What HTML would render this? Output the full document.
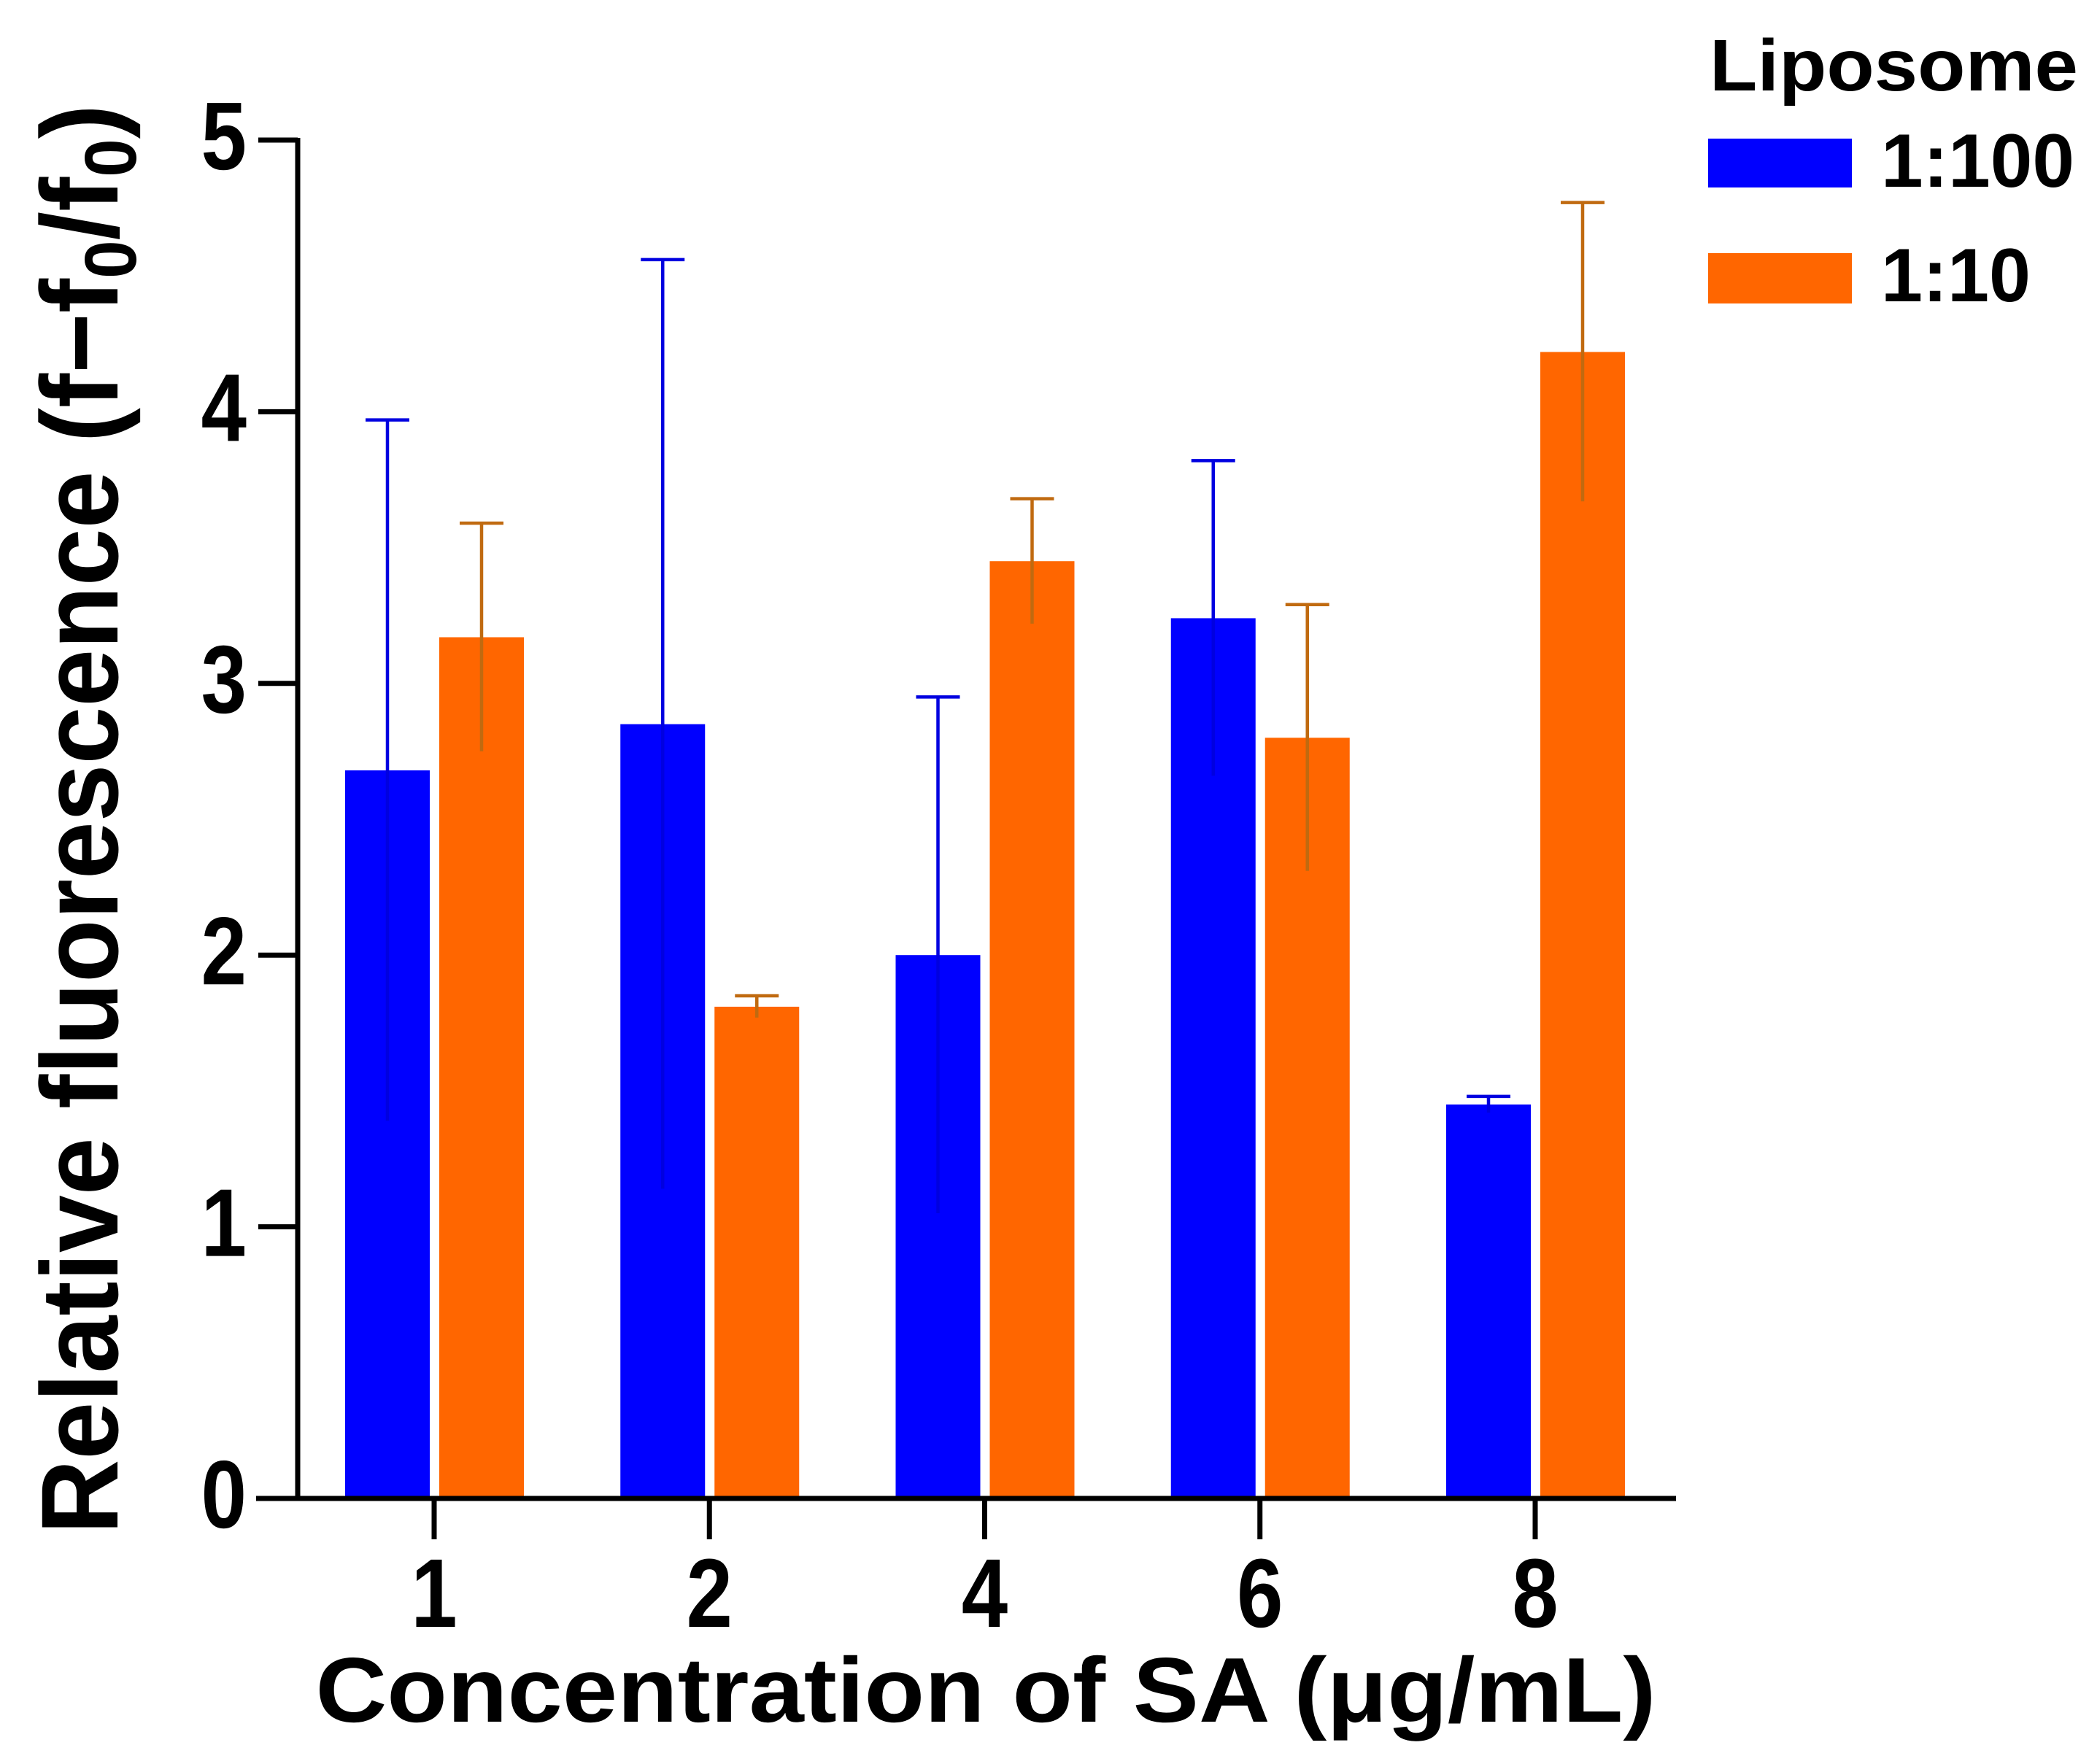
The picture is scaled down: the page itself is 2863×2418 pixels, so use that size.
<!DOCTYPE html>
<html><head><meta charset="utf-8"><style>
html,body{margin:0;padding:0;background:#fff;}
svg{display:block;font-family:"Liberation Sans",Arial,sans-serif;font-weight:bold;}
</style></head><body>
<svg id="chart" width="2863" height="2418" viewBox="0 0 2863 2418" xmlns="http://www.w3.org/2000/svg">
<g id="plot"></g>
<text transform="translate(161,1123) rotate(-90)" text-anchor="middle" font-size="150" textLength="1960" lengthAdjust="spacingAndGlyphs">Relative fluorescence (f−f<tspan font-size="100" dy="25">0</tspan><tspan dy="-25">/f</tspan><tspan font-size="100" dy="25">0</tspan><tspan dy="-25">)</tspan></text>
<text x="1351" y="2360" text-anchor="middle" font-size="126" textLength="1837" lengthAdjust="spacingAndGlyphs">Concentration of SA (μg/mL)</text>
<g>
<text x="2343" y="124" font-size="100" textLength="505" lengthAdjust="spacingAndGlyphs">Liposome</text>
<rect x="2341" y="190" width="197" height="67" fill="#0000ff"/>
<text x="2578" y="256" font-size="104" textLength="265" lengthAdjust="spacingAndGlyphs">1:100</text>
<rect x="2341" y="347" width="197" height="69" fill="#ff6600"/>
<text x="2578" y="413" font-size="104" textLength="205" lengthAdjust="spacingAndGlyphs">1:10</text>
</g>
</svg>
<script>
const categories = ["1","2","4","6","8"];
const blueValues = [2.68, 2.85, 2.00, 3.24, 1.45];
const blueErrors = [1.29, 1.71, 0.95, 0.58, 0.03];
const orangeValues = [3.17, 1.81, 3.45, 2.80, 4.22];
const orangeErrors = [0.42, 0.04, 0.23, 0.49, 0.55];
const yTicks = [0, 1, 2, 3, 4, 5];

const NS = "http://www.w3.org/2000/svg";
const plot = document.getElementById('plot');
const Y0 = 2054, Y5 = 192, AX = 408;
function y(v){ return Y0 - (Y0 - Y5) * v / 5; }
function xc(i){ return 595 + i * 377.25; }
function mk(tag, attrs){ const e = document.createElementNS(NS, tag); for (const k in attrs) e.setAttribute(k, attrs[k]); plot.appendChild(e); return e; }

function drawSeries(vals, errs, offset, fill, ecol, name){
  vals.forEach((v, i) => {
    const cx = xc(i) + offset;
    const r = mk('rect', {x: cx - 58, y: y(v), width: 116, height: Y0 - y(v), fill: fill});
    
    
    const l = mk('line', {x1: cx, x2: cx, y1: y(v - errs[i]), y2: y(v + errs[i]), stroke: ecol, 'stroke-width': 4.5});
    
    
    const c = mk('line', {x1: cx - 30, x2: cx + 30, y1: y(v + errs[i]), y2: y(v + errs[i]), stroke: ecol, 'stroke-width': 4.5});
    
    
  });
}
drawSeries(blueValues, blueErrors, -64, '#0000ff', '#0000e0', '1-100');
drawSeries(orangeValues, orangeErrors, 65, '#ff6600', '#c06a10', '1-10');

const ya = mk('line', {x1: AX, x2: AX, y1: Y5 - 3, y2: Y0, stroke: '#000', 'stroke-width': 7});


const xa = mk('line', {x1: 351, x2: 2297, y1: Y0, y2: Y0, stroke: '#000', 'stroke-width': 7});



yTicks.forEach(t => {
  const tk = mk('line', {x1: 354, x2: AX, y1: y(t), y2: y(t), stroke: '#000', 'stroke-width': 7});
  
  
  const tx = mk('text', {transform: 'translate(338,' + (y(t) + 40) + ') scale(0.85,1)', 'text-anchor': 'end', 'font-size': 132});
  tx.textContent = t;
  
  
});
categories.forEach((c, i) => {
  const tk = mk('line', {x1: xc(i), x2: xc(i), y1: Y0, y2: 2110, stroke: '#000', 'stroke-width': 7});
  
  
  const tx = mk('text', {transform: 'translate(' + xc(i) + ',2230) scale(0.85,1)', 'text-anchor': 'middle', 'font-size': 134});
  tx.textContent = c;
  
  
});
</script>
</body></html>
